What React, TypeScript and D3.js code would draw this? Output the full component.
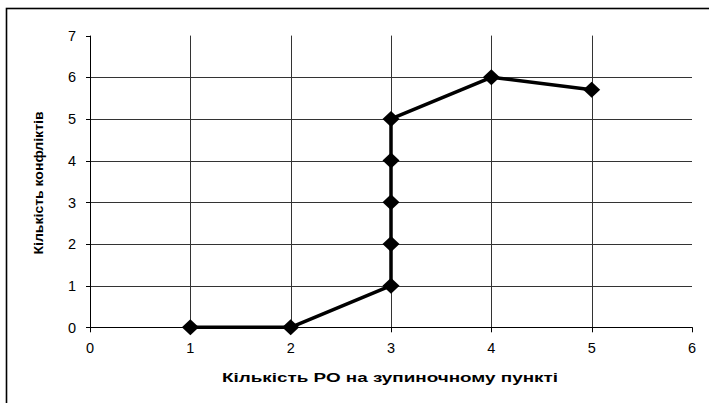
import React from "react";
import * as d3 from "d3";

const xValues = [1, 2, 3, 3, 3, 3, 3, 4, 5];
const yValues = [0, 0, 1, 2, 3, 4, 5, 6, 5.7];
const xTicks = [0, 1, 2, 3, 4, 5, 6];
const yTicks = [0, 1, 2, 3, 4, 5, 6, 7];
const xTitle = "Кількість РО на зупиночному пункті";
const yTitle = "Кількість конфліктів";

const W = 709;
const H = 403;

export default function App() {
  const x = d3.scaleLinear().domain([0, 6]).range([90, 692]);
  const y = d3.scaleLinear().domain([0, 7]).range([327.3, 35.6]);
  const pts = xValues.map((v, i) => [x(v), y(yValues[i])] as [number, number]);
  const line = d3.line()(pts) || "";
  const font = "'Liberation Sans', Arial, sans-serif";
  const diamond = (cx: number, cy: number) =>
    `M${cx},${cy - 8}L${cx + 8.5},${cy}L${cx},${cy + 8}L${cx - 8.5},${cy}Z`;
  const y0 = y(0);
  const yTop = y(7);
  return (
    <svg
      width={W}
      height={H}
      style={{ position: "absolute", left: 0, top: 0, background: "#fff" }}
    >
      <rect x={0} y={0} width={W} height={H} fill="#fff" />
      <rect x={6.5} y={8.5} width={W + 10} height={H + 10} fill="none" stroke="#000" strokeWidth={1.6} />
      {yTicks.filter((t) => t > 0 && t < 7).map((t) => (
        <line key={"hg" + t} x1={x(0)} x2={x(6)} y1={Math.round(y(t)) + 0.5} y2={Math.round(y(t)) + 0.5} stroke="#333" strokeWidth={1} />
      ))}
      {xTicks.filter((t) => t > 0 && t < 6).map((t) => (
        <line key={"vg" + t} x1={Math.round(x(t)) + 0.5} x2={Math.round(x(t)) + 0.5} y1={yTop} y2={y0} stroke="#333" strokeWidth={1} />
      ))}
      <line x1={x(0) + 0.5} x2={x(0) + 0.5} y1={yTop} y2={y0 + 4} stroke="#000" strokeWidth={1} />
      <line x1={x(0) - 4} x2={x(6) + 0.5} y1={Math.round(y0) + 0.5} y2={Math.round(y0) + 0.5} stroke="#000" strokeWidth={1} />
      {yTicks.map((t) => (
        <line key={"yt" + t} x1={x(0) - 4} x2={x(0)} y1={Math.round(y(t)) + 0.5} y2={Math.round(y(t)) + 0.5} stroke="#000" strokeWidth={1} />
      ))}
      {xTicks.map((t) => (
        <line key={"xt" + t} x1={Math.round(x(t)) + 0.5} x2={Math.round(x(t)) + 0.5} y1={y0} y2={y0 + 5} stroke="#000" strokeWidth={1} />
      ))}
      {yTicks.map((t) => (
        <text key={"yl" + t} x={76} y={y(t)} dy="0.36em" textAnchor="end" fontFamily={font} fontSize={14.5} fill="#000">
          {t}
        </text>
      ))}
      {xTicks.map((t) => (
        <text key={"xl" + t} x={x(t)} y={353} textAnchor="middle" fontFamily={font} fontSize={14.5} fill="#000">
          {t}
        </text>
      ))}
      <text x={390} y={382} textAnchor="middle" fontFamily={font} fontSize={13.5} fontWeight="bold" textLength={336} lengthAdjust="spacingAndGlyphs" fill="#000">
        {xTitle}
      </text>
      <text
        transform={`translate(42.5,183) rotate(-90)`}
        textAnchor="middle"
        fontFamily={font}
        fontSize={13}
        fontWeight="bold"
        textLength={143}
        lengthAdjust="spacingAndGlyphs"
        fill="#000"
      >
        {yTitle}
      </text>
      <path d={line} fill="none" stroke="#000" strokeWidth={3.5} strokeLinejoin="round" />
      {pts.map((p, i) => (
        <path key={"m" + i} d={diamond(p[0], p[1])} fill="#000" />
      ))}
    </svg>
  );
}
